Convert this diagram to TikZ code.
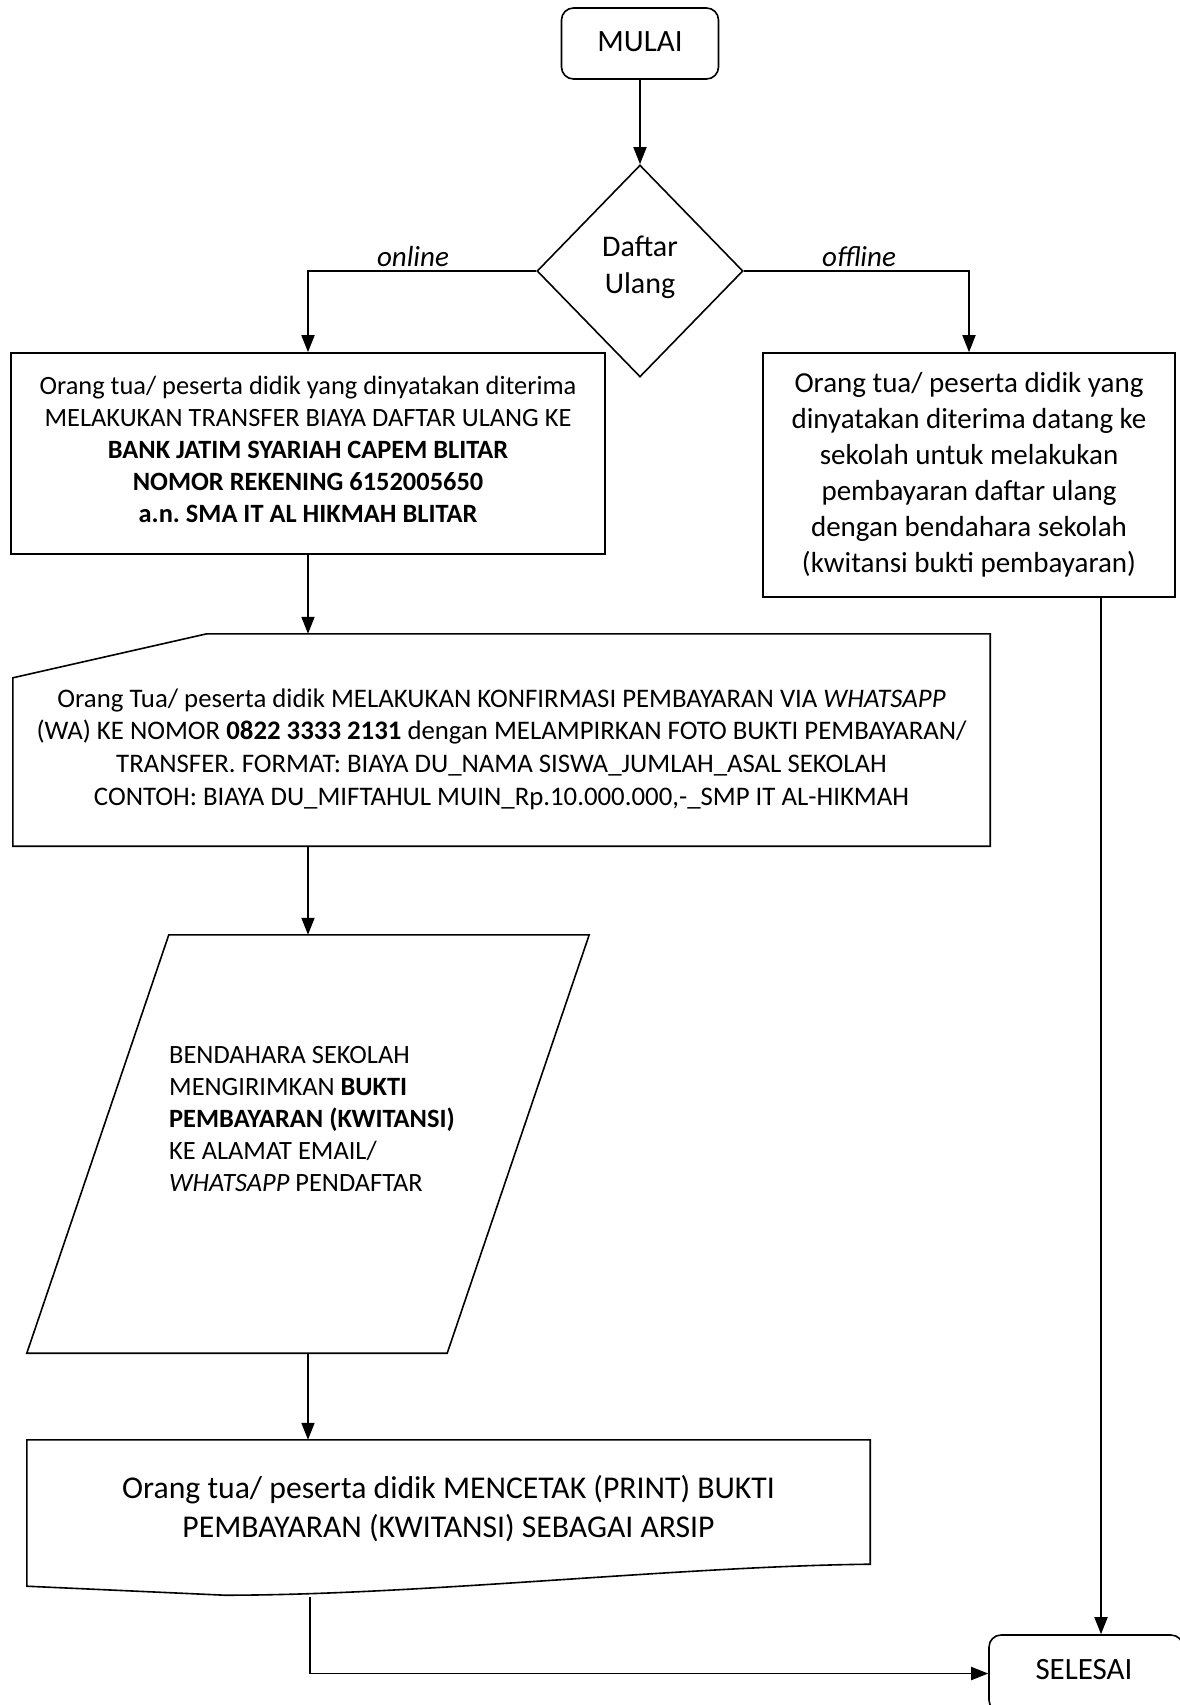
\documentclass[tikz,border=0pt]{standalone}
\usepackage{fontspec}
\setmainfont{Carlito}
\frenchspacing
\usetikzlibrary{shapes.geometric,arrows.meta,calc}
\begin{document}
\begin{tikzpicture}[x=1pt,y=-1pt,
  shp/.style={draw, line width=1.6pt},
  term/.style={shp, rounded corners=12pt, inner sep=0pt, font=\fontsize{31}{37}\selectfont},
  boxx/.style={shp, inner sep=0pt, align=center},
  ghost/.style={inner sep=0pt},
  arr/.style={line width=1.8pt, -{Triangle[length=17pt,width=13pt]}},
  lab/.style={font=\fontsize{29}{34}\selectfont\itshape, inner sep=0pt},
  f26/.style={font=\fontsize{26.4}{32}\selectfont},
  f27/.style={font=\fontsize{26.8}{32.6}\selectfont},
  f29/.style={font=\fontsize{29}{36}\selectfont},
  f32/.style={font=\fontsize{31.7}{39}\selectfont}]
\useasboundingbox (0,0) rectangle (1180,1705);

\node[term, minimum width=157pt, minimum height=71pt] (mulai) at (640,43.5) {};
\node[ghost, font=\fontsize{31}{37}\selectfont] (mulaitext) at (640,41.5) {MULAI};
\node[shp, diamond, minimum width=206pt, minimum height=212pt, inner sep=0pt] (dec) at (640,271) {};
\node[ghost, align=center, font=\fontsize{30}{37}\selectfont] (dectext) at (640,267) {Daftar\\Ulang};

\node[lab] (lon) at (413,257) {online};
\node[lab] (loff) at (859,257) {offline};

\node[boxx, minimum width=594pt, minimum height=201pt] (lbox) at (308,453.5) {};
\node[ghost, f26, align=center] (lboxtext) at (308,449)
 {Orang tua/ peserta didik yang dinyatakan diterima\\
  MELAKUKAN TRANSFER BIAYA DAFTAR ULANG KE\\
  \textbf{BANK JATIM SYARIAH CAPEM BLITAR}\\
  \textbf{NOMOR REKENING 6152005650}\\
  \textbf{a.n. SMA IT AL HIKMAH BLITAR}};

\node[boxx, f29, minimum width=412pt, minimum height=244pt] (rbox) at (969,475)
 {Orang tua/ peserta didik yang\\
  dinyatakan diterima datang ke\\
  sekolah untuk melakukan\\
  pembayaran daftar ulang\\
  dengan bendahara sekolah\\
  (kwitansi bukti pembayaran)};

% manual input
\node[ghost, minimum width=977pt, minimum height=212pt] (man) at (501.5,740) {};
\draw[shp] ($(man.north west)+(194,0)$) -- (man.north east) -- (man.south east)
  -- (man.south west) -- ($(man.north west)+(0,44)$) -- cycle;
\node[ghost, f27, align=center] (mantext) at (501.5,749)
 {Orang Tua/ peserta didik MELAKUKAN KONFIRMASI PEMBAYARAN VIA \textit{WHATSAPP}\\
  (WA) KE NOMOR \textbf{0822 3333 2131} dengan MELAMPIRKAN FOTO BUKTI PEMBAYARAN/\\
  TRANSFER. FORMAT: BIAYA DU\_NAMA SISWA\_JUMLAH\_ASAL SEKOLAH\\
  CONTOH: BIAYA DU\_MIFTAHUL MUIN\_Rp.10.000.000,-\_SMP IT AL-HIKMAH};

% parallelogram
\node[ghost, minimum width=562pt, minimum height=418pt] (para) at (308,1144) {};
\draw[shp] ($(para.north west)+(142,0)$) -- (para.north east)
  -- ($(para.south east)-(142,0)$) -- (para.south west) -- cycle;
\node[ghost, f26, align=left, anchor=west] (paratext) at (169,1119)
 {BENDAHARA SEKOLAH\\
  MENGIRIMKAN \textbf{BUKTI}\\
  \textbf{PEMBAYARAN (KWITANSI)}\\
  KE ALAMAT EMAIL/\\
  \textit{WHATSAPP} PENDAFTAR};

% document
\node[ghost, minimum width=843pt, minimum height=146pt] (doc) at (448.5,1513) {};
\node[ghost, f32, align=center] (doctext) at (448.5,1509)
 {Orang tua/ peserta didik MENCETAK (PRINT) BUKTI\\
  PEMBAYARAN (KWITANSI) SEBAGAI ARSIP};
\draw[shp] (doc.south west) -- (doc.north west) -- (doc.north east)
  -- ($(doc.south east)+(0,-22)$)
  .. controls ($(doc.south east)+(-190,-20)$) and ($(doc.south west)+(393,9)$) ..
  ($(doc.south west)+(198,9)$) -- cycle;

\node[term, minimum width=194pt, minimum height=77pt] (sel) at (1086,1673.5) {};
\node[ghost, font=\fontsize{31}{37}\selectfont] (seltext) at (1084,1670) {SELESAI};

% connectors
\coordinate (docb) at (310,1597);
\coordinate (xr) at (1101,0);
\draw[arr] (mulai) -- (dec);
\draw[arr] (dec.west) -| (lbox.north);
\draw[arr] (dec.east) -| (rbox.north);
\draw[arr] (lbox.south) -- (lbox.south |- man.north);
\draw[arr] (lbox.south |- man.south) -- (lbox.south |- para.north);
\draw[arr] (lbox.south |- para.south) -- (lbox.south |- doc.north);
\draw[arr] (docb) |- (sel.west);
\draw[arr] (rbox.south -| xr) -- (sel.north -| xr);
\end{tikzpicture}
\end{document}
